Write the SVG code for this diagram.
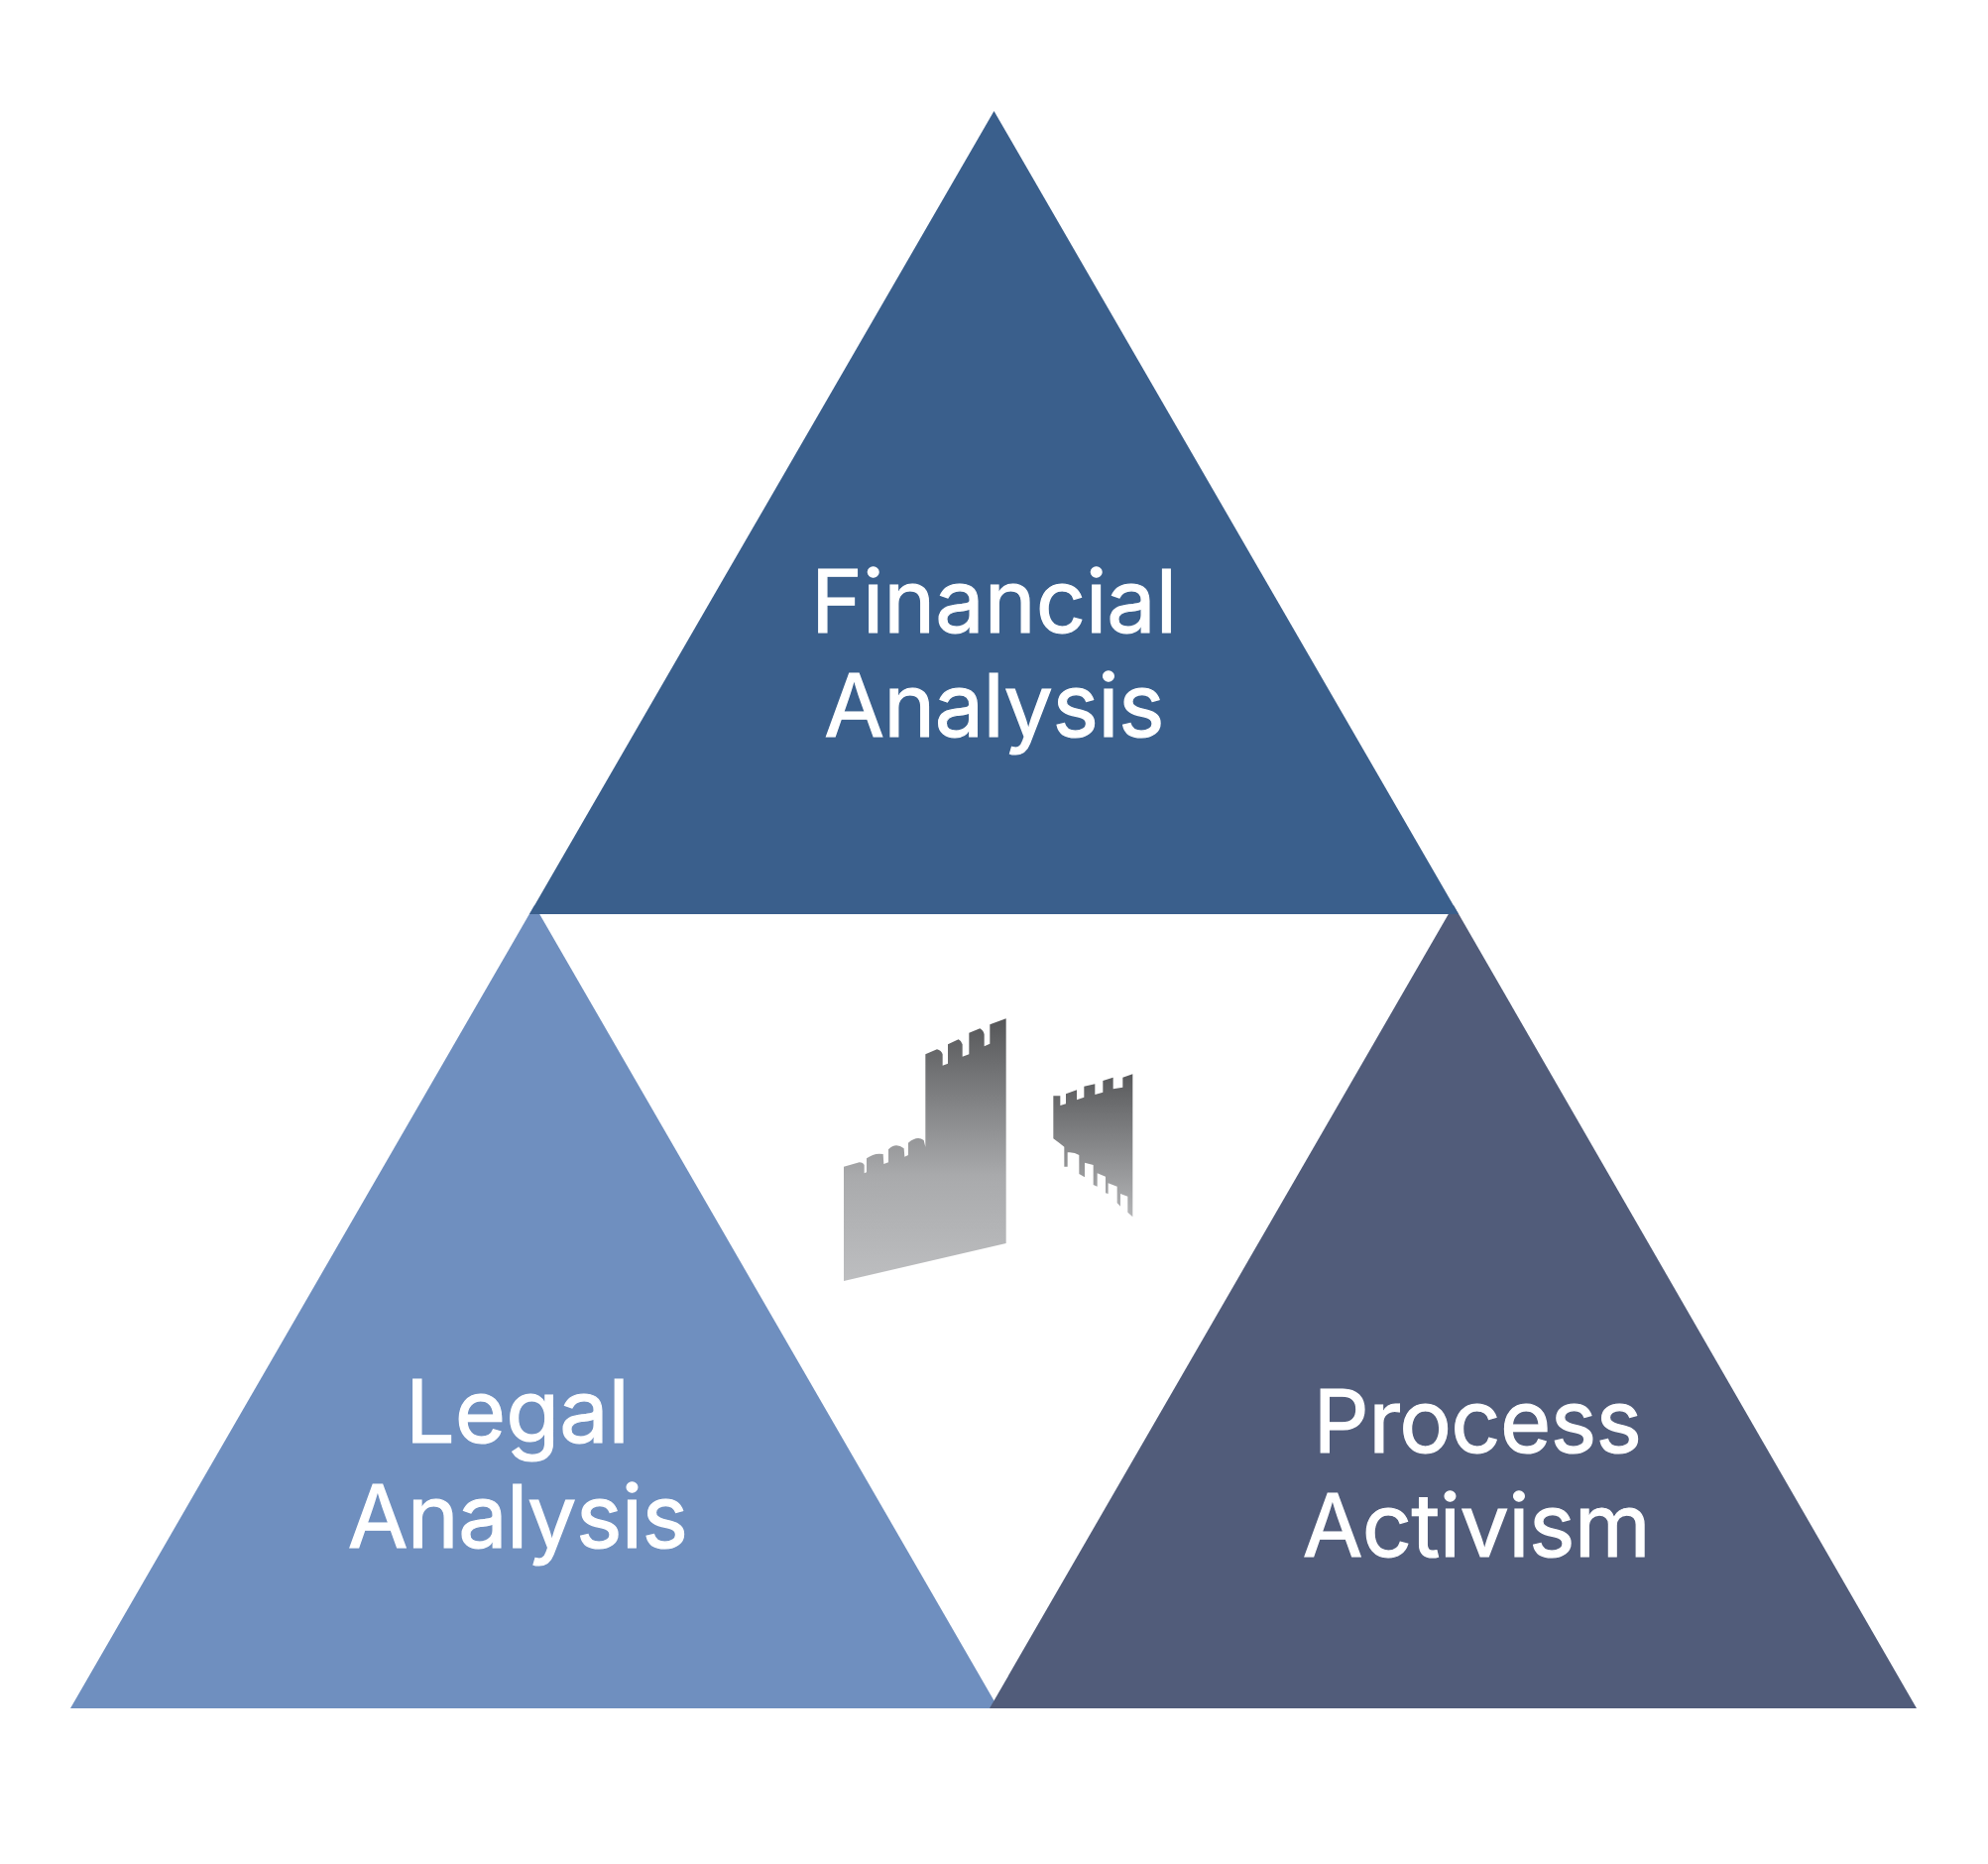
<svg xmlns="http://www.w3.org/2000/svg" width="2005" height="1880" viewBox="0 0 2005 1880">
<style>
.lbl{font-family:Inter,"Liberation Sans",sans-serif;font-size:88px;fill:#fff;stroke:#fff;stroke-width:1.2px;text-anchor:middle}
.tight{letter-spacing:-0.6px}
</style>
<defs>
<linearGradient id="wall" x1="0" y1="0" x2="0" y2="1"><stop offset="0" stop-color="#555658"/><stop offset="0.6" stop-color="#a9aaac"/><stop offset="1" stop-color="#bdbec0"/></linearGradient>
<linearGradient id="wall2" x1="0" y1="0" x2="0" y2="1"><stop offset="0" stop-color="#58595b"/><stop offset="1" stop-color="#b4b5b7"/></linearGradient>
</defs>
<rect width="2005" height="1880" fill="#fff"/>
<g id="legal">
<polygon points="539,913 1007,1723 71,1723" fill="#6f8fbf"/>
<text class="lbl" x="522" y="1455">Legal</text>
<text class="lbl tight" x="522" y="1561">Analysis</text>
</g>
<g id="process">
<polygon points="1466,913 1933,1723 998,1723" fill="#515c7a"/>
<text class="lbl tight" x="1490" y="1465">Process</text>
<text class="lbl tight" x="1489" y="1570">Activism</text>
</g>
<g id="financial">
<polygon points="1002.5,112 1471,922 534,922" fill="#3a5f8c"/>
<text class="lbl" x="1002.5" y="638">Financial</text>
<text class="lbl tight" x="1002.5" y="743">Analysis</text>
</g>
<g id="castle" transform="translate(820 1000) scale(0.33333)">
<path fill="url(#wall)" d="M93,530 L140,517 Q152,518 155,525 L155,550 L162,547 L162,505 Q185,487 212,492 L214,522 L228,517 L228,478 Q250,455 275,475 L277,500 L288,495 L288,458 Q315,435 335,450 L340,470 L340,190 L375,175 Q388,178 392,190 L392,224 L408,218 L408,160 L440,145 Q450,150 452,160 L452,197 L472,190 L472,125 L505,112 Q516,118 518,130 L518,166 L535,158 L535,100 L584,82 L584,762 L93,876 Z"/>
<path fill="url(#wall2)" d="M727,316 L748,316 L748,345 L765,340 L765,310 L798,298 L798,328 L820,320 L820,287 L853,280 L853,312 L877,305 L877,270 L908,260 L908,295 L937,290 L937,260 L967,250 L967,682 L952,668 L952,620 L930,612 L930,650 L920,640 L920,590 L893,580 L893,612 L885,610 L885,560 L860,550 L860,590 L848,585 L848,525 L822,518 L822,562 L805,552 L805,495 Q790,485 770,487 L770,530 L760,530 L760,470 L745,458 L727,445 Z"/>
</g>
</svg>
